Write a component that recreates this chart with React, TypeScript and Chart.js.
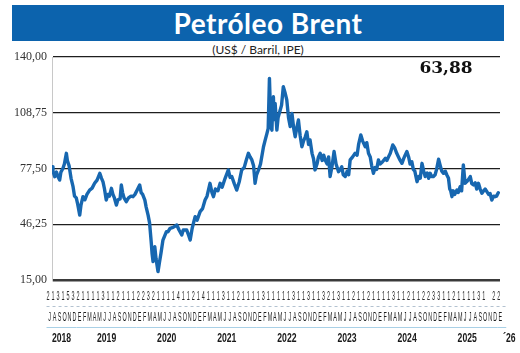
import React, { useEffect, useRef } from "react";
import { Chart, registerables } from "chart.js";

Chart.register(...registerables);

// months elapsed since 1 Jul 2018
const monthOffsets = [
  0, 0.2, 0.55, 0.9, 1.2, 1.55, 1.8, 2.2, 2.5, 2.9, 3.1, 3.45, 3.85, 4.25, 4.55, 4.9, 5.15, 5.6, 5.85, 6.25,
  6.65, 7.05, 7.6, 8.1, 8.6, 9.1, 9.65, 10, 10.3, 10.6, 10.95, 11.3, 11.6, 12, 12.3, 12.6, 13, 13.3, 13.75, 14,
  14.25, 14.55, 15, 15.45, 15.95, 16.35, 16.75, 17.2, 17.7, 18, 18.3, 18.75, 19, 19.4, 19.7, 20.05, 20.2, 20.4, 20.75, 21,
  21.4, 21.7, 22, 22.4, 23.1, 23.4, 23.85, 24.45, 25.2, 25.65, 26.2, 26.5, 27.2, 27.6, 27.9, 28.3, 28.9, 29.3, 29.9, 30.4,
  30.9, 31.3, 31.9, 32.3, 32.6, 33, 33.5, 33.95, 34.35, 34.95, 35.6, 35.95, 36.3, 36.8, 37.3, 37.8, 38.3, 38.8, 39.2, 39.65,
  40, 40.35, 40.7, 41, 41.3, 41.7, 42.1, 42.7, 43, 43.4, 43.65, 43.9, 44.2, 44.4, 44.55, 44.7, 44.85, 45.05, 45.4, 45.65,
  46.05, 46.35, 46.7, 47.05, 47.4, 47.75, 48.1, 48.45, 48.8, 49.1, 49.4, 49.75, 50.1, 50.45, 50.8, 51.1, 51.45, 51.8, 52.1, 52.5,
  52.8, 53.1, 53.5, 53.8, 54.15, 54.55, 54.85, 55.15, 55.55, 55.85, 56.15, 56.55, 56.95, 57.35, 57.85, 58.2, 58.5, 58.8, 59.2, 59.6,
  59.9, 60.2, 60.7, 61.2, 61.6, 61.9, 62.35, 62.7, 63.25, 63.55, 63.9, 64.25, 64.55, 64.9, 65.25, 65.55, 65.9, 66.25, 66.65, 67.3,
  67.6, 67.95, 68.3, 68.8, 69.2, 69.6, 69.95, 70.3, 70.65, 71, 71.3, 71.65, 72, 72.3, 72.65, 72.95, 73.25, 73.7, 74.05, 74.35,
  74.7, 75.05, 75.35, 75.75, 76.05, 76.35, 76.65, 77, 77.35, 77.65, 78.05, 78.4, 78.7, 79.05, 79.4, 79.7, 80.05, 80.3, 80.5, 80.75,
  81, 81.3, 81.75, 82, 82.4, 82.7, 83.05, 83.4, 83.7, 84, 84.45, 84.75, 85.1, 85.45, 85.75, 86.1, 86.45, 86.8, 87.15, 87.45,
  87.8, 88.15, 88.45, 88.8, 89.15, 89.45, 89.75, 90.1,
];

const brentValues = [
  78.5, 76, 72.9, 75.5, 73, 71, 75.5, 77.5, 80, 86, 82, 79, 72, 67.3, 62, 61, 58, 51.4, 57, 61.7,
  60, 63, 65.4, 66.5, 69.2, 71, 74.8, 72, 70, 66, 59.8, 63, 62, 66.4, 63, 61, 57, 60, 60.5, 68.3,
  64, 61, 58.9, 61, 62, 61.7, 63, 65.5, 68.3, 64, 63, 59.8, 56, 51.4, 47, 35.6, 30, 25.3, 33.7, 27,
  19.7, 25, 30, 37.4, 42.1, 42, 44, 44.5, 45.8, 43, 40.2, 43, 43, 40, 37.4, 44, 50.5, 48.5, 53.3, 55,
  59.8, 62, 69.2, 64, 61.7, 66, 65, 69.2, 67, 72, 76.7, 72.5, 73, 69, 65.4, 70, 76.7, 78, 82, 86,
  84, 82.3, 79, 69.2, 74, 76.7, 80, 89.7, 93, 97.2, 100, 128, 101, 99, 112, 117.7, 105, 114, 99, 106,
  110, 113, 123.4, 120, 116, 106, 101, 108.4, 100, 95.3, 100, 104.7, 96, 89.7, 93, 95, 98.1, 91, 93.5, 86,
  83, 76.7, 80, 84, 86, 82, 85, 82.3, 80, 84, 73, 79, 87, 80, 75.7, 77, 78.5, 74, 73, 76,
  74, 82.3, 84, 86, 85, 91, 96.3, 93, 89.7, 92, 86, 84, 79, 74.8, 78, 77, 82.3, 80, 81, 83.2,
  82, 84.1, 86, 90.7, 89, 86, 84, 82, 80.4, 83, 85, 87, 84, 80, 81.3, 77, 76, 70.1, 73, 72,
  80.4, 76, 73, 75, 72, 74.8, 73, 73, 74, 77, 82.7, 79, 76, 74.8, 76, 74, 72, 66, 65, 61.7,
  65, 63, 65.4, 64, 67.3, 65, 79.5, 69.2, 70, 71, 73, 69, 68.3, 69.5, 66, 69.2, 66, 63.6, 65, 66,
  64.5, 63, 63.5, 59.8, 62, 61.7, 62, 63.88,
];

const yTickValues = [15, 46.25, 77.5, 108.75, 140];
const monthLetters = ("JASOND" + "EFMAMJJASOND".repeat(7) + "E").split("");
const weekDigits = ("21315321111311211122321111411214111311211113" + "11111311311321311211211113112112233112111131" + " 22").split("");
const yearLabels = ["2018", "2019", "2020", "2021", "2022", "2023", "2024", "2025", "\u00B426"];
const yearMonthCounts = [6, 12, 12, 12, 12, 12, 12, 12, 1];
const lastValueLabel = "63,88";

const BLUE = "#1767b0";

function narrowText(ctx: CanvasRenderingContext2D, text: string, cx: number, cy: number, font: string, sx: number, color: string) {
  ctx.save();
  ctx.translate(cx, cy);
  ctx.scale(sx, 1);
  ctx.font = font;
  ctx.fillStyle = color;
  ctx.textAlign = "center";
  ctx.textBaseline = "middle";
  ctx.fillText(text, 0, 0);
  ctx.restore();
}

const axisRowsPlugin = {
  id: "axisRows",
  afterDraw(chart: any) {
    const ctx: CanvasRenderingContext2D = chart.ctx;
    const xs = chart.scales.x;
    const n = monthLetters.length;
    const pos = (i: number) => xs.getPixelForValue(-0.5 + (i * n) / (n - 1));

    // digits row
    weekDigits.forEach((d, i) => {
      if (d.trim()) narrowText(ctx, d, pos(i) - 1.5, 296, "13px 'Liberation Sans'", 0.42, "#2a2a2a");
    });

    // dashed separator
    ctx.save();
    ctx.strokeStyle = "#b3c2d0";
    ctx.lineWidth = 1;
    ctx.setLineDash([3, 3]);
    ctx.beginPath();
    ctx.moveTo(pos(0) - 3, 306.5);
    ctx.lineTo(pos(n - 1) + 8, 306.5);
    ctx.stroke();
    ctx.restore();

    // month letters
    monthLetters.forEach((m, i) => {
      narrowText(ctx, m, pos(i), 317.5, "12px 'Liberation Sans'", 0.45, "#1e1e1e");
    });

    // year underline segments and labels
    let start = 0;
    yearLabels.forEach((label, k) => {
      const count = yearMonthCounts[k];
      const a = pos(start) - 3;
      const b = pos(start + count - 1) + (k === yearLabels.length - 1 ? 6 : 2);
      ctx.save();
      ctx.strokeStyle = "#a9d0e6";
      ctx.lineWidth = 1;
      ctx.beginPath();
      ctx.moveTo(a, 327.5);
      ctx.lineTo(b, 327.5);
      ctx.stroke();
      ctx.restore();
      const cx = k === yearLabels.length - 1 ? b + 3 : (a + b) / 2;
      narrowText(ctx, label, cx, 338.5, "bold 12px 'Liberation Sans'", 0.72, "#1a1a1a");
      start += count;
    });

    // last value label
    ctx.save();
    ctx.font = "bold 17px 'DejaVu Serif'";
    ctx.fillStyle = "#111";
    ctx.textAlign = "center";
    ctx.textBaseline = "middle";
    ctx.fillText(lastValueLabel, 446, 69);
    ctx.restore();
  },
};

export default function App() {
  const canvasRef = useRef<HTMLCanvasElement | null>(null);

  useEffect(() => {
    const canvas = canvasRef.current;
    if (!canvas) return;
    const points = monthOffsets.map((m, i) => ({ x: m, y: brentValues[i] }));
    const chart = new Chart(canvas, {
      type: "line",
      data: {
        datasets: [
          {
            data: points,
            borderColor: BLUE,
            borderWidth: 3.4,
            pointRadius: 0,
            tension: 0,
            borderJoinStyle: "round",
            borderCapStyle: "round",
          },
        ],
      },
      options: {
        animation: false,
        responsive: false,
        devicePixelRatio: 1,
        layout: { padding: { left: 8, top: 57, right: 20, bottom: 73 } },
        plugins: { legend: { display: false }, tooltip: { enabled: false }, title: { display: false } },
        scales: {
          x: { type: "linear", min: 0, max: 90.45, display: false },
          y: {
            type: "linear",
            min: 15,
            max: 140,
            afterBuildTicks: (scale: any) => {
              scale.ticks = yTickValues.map((v) => ({ value: v }));
            },
            afterFit: (scale: any) => {
              scale.width = 44;
            },
            ticks: {
              padding: 5,
              color: "#333",
              font: { family: "'Liberation Serif'", size: 12 },
              callback: (v: any) => Number(v).toFixed(2).replace(".", ","),
            },
            grid: {
              drawTicks: false,
              color: (c: any) => (c.tick && c.tick.value === 15 ? "#3a3a3a" : "#1e1e1e"),
              lineWidth: (c: any) => (c.tick && c.tick.value === 15 ? 2.5 : 1.2),
            },
            border: { display: true, color: "#c8c8c8", width: 1 },
          },
        },
      },
      plugins: [axisRowsPlugin],
    });
    return () => chart.destroy();
  }, []);

  return (
    <div style={{ position: "absolute", left: 0, top: 0, width: 520, height: 353, background: "#fff", overflow: "hidden" }}>
      <div
        style={{
          position: "absolute",
          left: 12,
          top: 5,
          width: 492,
          height: 36,
          background: "#0c63ad",
        }}
      />
      <div
        style={{
          position: "absolute",
          left: 12,
          top: 5,
          width: 512,
          height: 36,
          lineHeight: "36px",
          textAlign: "center",
          color: "#fff",
          fontFamily: "Lato, 'Open Sans', sans-serif",
          fontWeight: 700,
          fontSize: 28,
          letterSpacing: 0.5,
        }}
      >
        Petróleo Brent
      </div>
      <div
        style={{
          position: "absolute",
          left: 0,
          top: 43,
          width: 516,
          textAlign: "center",
          color: "#222",
          fontFamily: "Lato, sans-serif",
          fontSize: 12,
          lineHeight: "14px",
        }}
      >
        (US$ / Barril, IPE)
      </div>
      <canvas ref={canvasRef} width={520} height={353} style={{ position: "absolute", left: 0, top: 0 }} />
    </div>
  );
}
